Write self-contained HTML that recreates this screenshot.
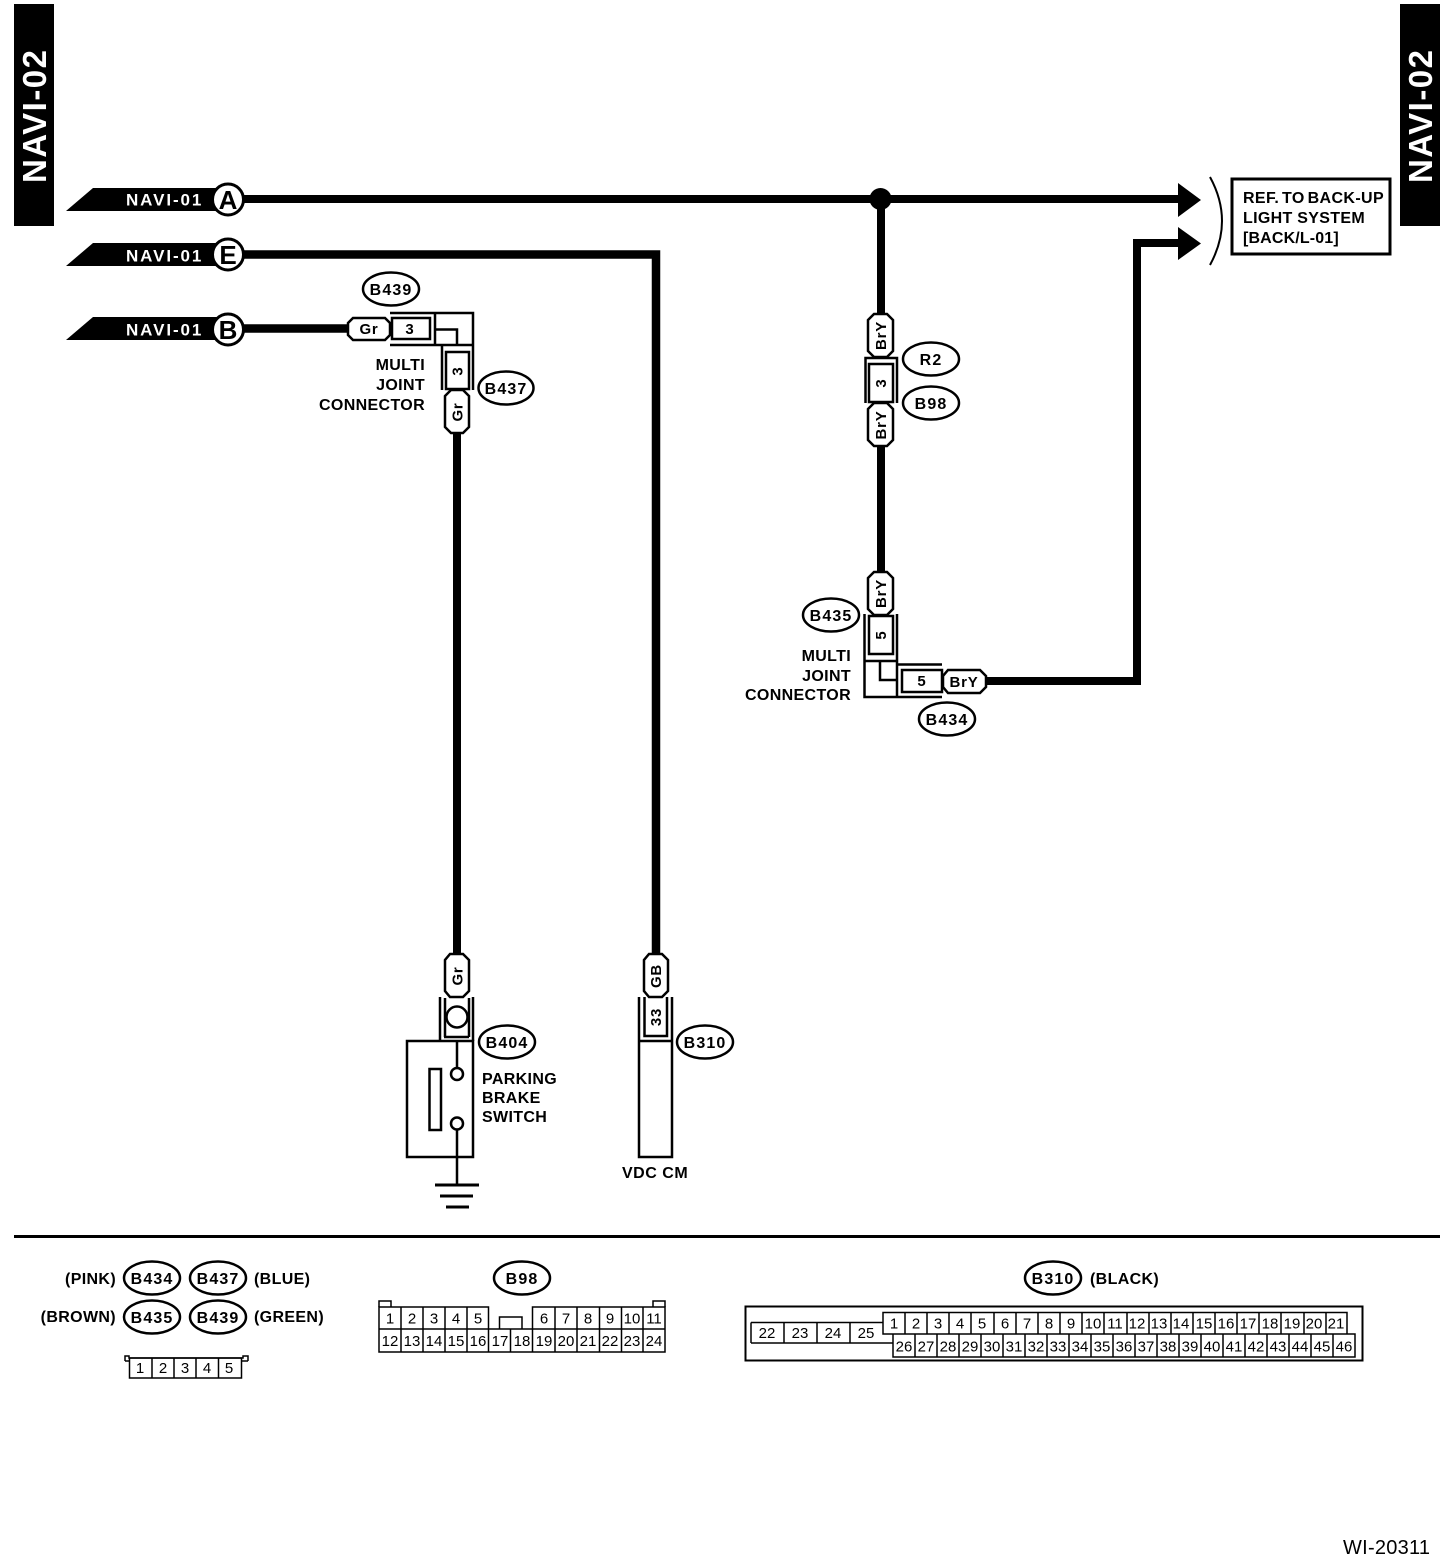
<!DOCTYPE html>
<html><head><meta charset="utf-8"><title>NAVI-02</title>
<style>
html,body{margin:0;padding:0;background:#fff}
svg{display:block}
text{font-family:"Liberation Sans",sans-serif;fill:#000}
.b{font-weight:bold;font-size:16px;letter-spacing:.35px}
.o{font-weight:bold;font-size:16px;text-anchor:middle;letter-spacing:1.1px}
.p{font-weight:bold;font-size:15px;text-anchor:middle;letter-spacing:.8px}
.n{font-size:15px;text-anchor:middle}
.f{font-weight:bold;font-size:17px;fill:#fff;letter-spacing:1.9px}
.l{font-weight:bold;font-size:26px;text-anchor:middle}
.r{text-anchor:end}
.t{font-weight:bold;font-size:33px;fill:#fff}
.s{fill:none;stroke:#000;stroke-width:2.5}
.w{fill:#fff;stroke:#000;stroke-width:2.5}
.c{fill:none;stroke:#000;stroke-width:1.5}
.k{fill:none;stroke:#000;stroke-width:2}
</style></head><body>
<svg width="1456" height="1562" viewBox="0 0 1456 1562" xmlns="http://www.w3.org/2000/svg">
<rect width="1456" height="1562" fill="#fff"/>

<!-- tabs -->
<rect x="14" y="4" width="40" height="222"/>
<rect x="1400" y="4" width="40" height="222"/>
<text class="t" transform="translate(46,183) rotate(-90)" textLength="133">NAVI-02</text>
<text class="t" transform="translate(1432,183) rotate(-90)" textLength="133">NAVI-02</text>

<!-- wires -->
<path d="M243 199H1182" stroke="#000" stroke-width="8" fill="none"/>
<path d="M243 254.500H656V955" stroke="#000" stroke-width="8.500" fill="none"/>
<path d="M243 328.500H347" stroke="#000" stroke-width="8.500" fill="none"/>
<path d="M457 433V955" stroke="#000" stroke-width="8" fill="none"/>
<path d="M881 199V315M881 445V573" stroke="#000" stroke-width="8" fill="none"/>
<path d="M985 681H1137V243H1182" stroke="#000" stroke-width="8" fill="none"/>
<circle cx="880.500" cy="199" r="11"/>
<polygon points="1178,183 1201,200 1178,217"/>
<polygon points="1178,227 1201,243.500 1178,260"/>
<path d="M1210 177Q1234 221 1210 265" class="k"/>

<!-- flags -->
<polygon points="66,211 93,188 220,188 220,211"/>
<polygon points="66,266 93,243 220,243 220,266"/>
<polygon points="66,340 93,317 220,317 220,340"/>
<text class="f" x="126" y="205.500">NAVI-01</text>
<text class="f" x="126" y="261.500">NAVI-01</text>
<text class="f" x="126" y="335.500">NAVI-01</text>
<circle cx="228" cy="199.500" r="15.500" fill="#fff" stroke="#000" stroke-width="3"/>
<circle cx="228" cy="254.500" r="15.500" fill="#fff" stroke="#000" stroke-width="3"/>
<circle cx="228" cy="329.500" r="15.500" fill="#fff" stroke="#000" stroke-width="3"/>
<text class="l" x="228" y="209">A</text>
<text class="l" x="228" y="264">E</text>
<text class="l" x="228" y="339">B</text>

<!-- ref box -->
<rect x="1232" y="179" width="158" height="75" fill="#fff" stroke="#000" stroke-width="3"/>
<text class="b" x="1243" y="203" textLength="141" style="word-spacing:-2px">REF. TO BACK-UP</text>
<text class="b" x="1243" y="223" textLength="122">LIGHT SYSTEM</text>
<text class="b" x="1243" y="243" textLength="96">[BACK/L-01]</text>

<!-- left multi joint -->
<path class="s" d="M390 313H473V390M390 345H473M435 313V345M442 345V390M436 329.500H457V345"/>
<rect class="w" x="392" y="318" width="38" height="21"/>
<polygon class="w" points="353,318 385,318 390,323 390,335 385,340 353,340 348,335 348,323"/>
<text class="p" x="369" y="334">Gr</text>
<text class="p" x="410" y="334">3</text>
<rect class="w" x="446" y="352" width="23" height="37"/>
<text class="p" transform="translate(462.500,371) rotate(-90)">3</text>
<polygon class="w" points="451,390 463,390 469,396 469,427 463,433 451,433 445,427 445,396"/>
<text class="p" transform="translate(462.500,412) rotate(-90)">Gr</text>
<text class="b r" x="425" y="370">MULTI</text>
<text class="b r" x="425" y="390">JOINT</text>
<text class="b r" x="425" y="410">CONNECTOR</text>
<ellipse class="w" cx="391" cy="289" rx="28" ry="16.500"/><text class="o" x="391" y="295">B439</text>
<ellipse class="w" cx="506" cy="388" rx="27.500" ry="16.500"/><text class="o" x="506" y="394">B437</text>

<!-- right column -->
<polygon class="w" points="874,314 887,314 893,320 893,351 887,357 874,357 868,351 868,320"/>
<text class="p" transform="translate(886,335.500) rotate(-90)">BrY</text>
<path class="s" d="M865.500 403V358H897V403"/>
<rect class="w" x="869" y="364" width="24" height="38"/>
<text class="p" transform="translate(886,383) rotate(-90)">3</text>
<polygon class="w" points="874,403 887,403 893,409 893,440 887,446 874,446 868,440 868,409"/>
<text class="p" transform="translate(886,425) rotate(-90)">BrY</text>
<ellipse class="w" cx="931" cy="359" rx="28" ry="16.500"/><text class="o" x="931" y="365">R2</text>
<ellipse class="w" cx="931" cy="403" rx="28" ry="16.500"/><text class="o" x="931" y="409">B98</text>
<polygon class="w" points="874,572 887,572 893,578 893,609 887,615 874,615 868,609 868,578"/>
<text class="p" transform="translate(886,593.500) rotate(-90)">BrY</text>
<path class="s" d="M864.500 614V697H942M897 614V697M864.500 661H897M897 664.500H942M880 661V680H897"/>
<rect class="w" x="869" y="616" width="24" height="38"/>
<text class="p" transform="translate(886,635) rotate(-90)">5</text>
<rect class="w" x="902" y="670" width="40" height="22"/>
<text class="p" x="922" y="686">5</text>
<polygon class="w" points="948,670 980,670 986,676 986,687 980,693 948,693 943,687 943,676"/>
<text class="p" x="964" y="687">BrY</text>
<text class="b r" x="851" y="661">MULTI</text>
<text class="b r" x="851" y="681">JOINT</text>
<text class="b r" x="851" y="700">CONNECTOR</text>
<ellipse class="w" cx="831" cy="615" rx="28" ry="16.500"/><text class="o" x="831" y="621">B435</text>
<ellipse class="w" cx="947" cy="719" rx="28" ry="16.500"/><text class="o" x="947" y="725">B434</text>

<!-- parking brake switch -->
<polygon class="w" points="450,954 463,954 469,960 469,991 463,997 450,997 445,991 445,960"/>
<text class="p" transform="translate(462.500,976) rotate(-90)">Gr</text>
<path class="s" d="M440 997V1041M473 997V1041M444 1037H469"/>
<rect class="s" x="407" y="1041" width="66" height="116"/>
<rect class="s" x="429.500" y="1069" width="11.500" height="61"/>
<circle class="s" cx="457" cy="1017" r="10.500"/>
<path class="s" d="M445 998V1037M469 998V1037"/>
<path class="s" d="M457 1041V1068M457 1129V1185"/>
<circle class="w" cx="457" cy="1074" r="6"/>
<circle class="w" cx="457" cy="1123.500" r="6"/>
<path d="M435 1185H479M440 1196H473M446 1207H469" fill="none" stroke="#000" stroke-width="3"/>
<text class="b" x="482" y="1084">PARKING</text>
<text class="b" x="482" y="1103">BRAKE</text>
<text class="b" x="482" y="1122">SWITCH</text>
<ellipse class="w" cx="507" cy="1042" rx="28" ry="16.500"/><text class="o" x="507" y="1048">B404</text>

<!-- VDC CM -->
<polygon class="w" points="649,954 662,954 668,960 668,991 662,997 649,997 644,991 644,960"/>
<text class="p" transform="translate(661,976) rotate(-90)">GB</text>
<path class="s" d="M639 997V1157H672V997M639 1041H672"/>
<path class="s" d="M644.500 997V1036H667V997"/>
<text class="p" transform="translate(661,1017) rotate(-90)">33</text>
<ellipse class="w" cx="705" cy="1042" rx="28" ry="16.500"/><text class="o" x="705" y="1048">B310</text>
<text class="b" x="622" y="1178" textLength="66">VDC CM</text>

<!-- divider -->
<rect x="14" y="1235" width="1426" height="3"/>

<!-- legend -->
<text class="b r" x="116" y="1284">(PINK)</text>
<text class="b r" x="116" y="1322">(BROWN)</text>
<text class="b" x="254" y="1284">(BLUE)</text>
<text class="b" x="254" y="1322">(GREEN)</text>
<ellipse class="w" cx="152" cy="1278" rx="28" ry="16.500"/><text class="o" x="152" y="1284">B434</text>
<ellipse class="w" cx="218" cy="1278" rx="28" ry="16.500"/><text class="o" x="218" y="1284">B437</text>
<ellipse class="w" cx="152" cy="1317" rx="28" ry="16.500"/><text class="o" x="152" y="1323">B435</text>
<ellipse class="w" cx="218" cy="1317" rx="28" ry="16.500"/><text class="o" x="218" y="1323">B439</text>
<path class="c" d="M125 1361V1356H129V1358H243V1356H248V1361"/>
<rect class="c" x="129.500" y="1358" width="112" height="20"/>
<path class="c" d="M125 1361H129.500M241.500 1361H248M152 1358V1378M174 1358V1378M196 1358V1378M218.500 1358V1378"/>
<text class="n" x="140" y="1373">1</text><text class="n" x="163" y="1373">2</text><text class="n" x="185" y="1373">3</text><text class="n" x="207" y="1373">4</text><text class="n" x="229" y="1373">5</text>

<!-- B98 -->
<ellipse class="w" cx="522" cy="1278" rx="28" ry="16.500"/><text class="o" x="522" y="1284">B98</text>
<path class="c" d="M379 1307V1301H391V1307M653 1307V1301H665V1307"/>
<path class="c" d="M379 1329V1307H488.500V1329M532.500 1329V1307H665V1329M379 1329H665V1352H379V1329"/>
<path class="c" d="M499.500 1329V1317H522V1329"/>
<path class="c" d="M401 1307V1352M423 1307V1352M445 1307V1352M467 1307V1352M488.500 1329V1352M510.500 1329V1352M532.500 1329V1352M555 1307V1352M577 1307V1352M599.500 1307V1352M621.500 1307V1352M643 1307V1352"/>
<text class="n" x="390" y="1323.500">1</text><text class="n" x="412" y="1323.500">2</text><text class="n" x="434" y="1323.500">3</text><text class="n" x="456" y="1323.500">4</text><text class="n" x="478" y="1323.500">5</text>
<text class="n" x="544" y="1323.500">6</text><text class="n" x="566" y="1323.500">7</text><text class="n" x="588" y="1323.500">8</text><text class="n" x="610" y="1323.500">9</text><text class="n" x="632" y="1323.500">10</text><text class="n" x="654" y="1323.500">11</text>
<text class="n" x="390" y="1346">12</text><text class="n" x="412" y="1346">13</text><text class="n" x="434" y="1346">14</text><text class="n" x="456" y="1346">15</text><text class="n" x="478" y="1346">16</text><text class="n" x="500" y="1346">17</text><text class="n" x="522" y="1346">18</text><text class="n" x="544" y="1346">19</text><text class="n" x="566" y="1346">20</text><text class="n" x="588" y="1346">21</text><text class="n" x="610" y="1346">22</text><text class="n" x="632" y="1346">23</text><text class="n" x="654" y="1346">24</text>

<!-- B310 -->
<ellipse class="w" cx="1053" cy="1278" rx="28" ry="16.500"/><text class="o" x="1053" y="1284">B310</text>
<text class="b" x="1090" y="1284">(BLACK)</text>
<rect x="745.500" y="1306.500" width="617" height="54" class="k"/>
<path class="c" d="M751 1322.500H883M751 1343H893M751 1322.500V1343M784 1322.500V1343M817 1322.500V1343M850 1322.500V1343"/>
<path class="c" d="M883 1312.500H1347V1334H883ZM893 1334H1355V1357H893Z"/>
<path class="c" d="M905 1312.500V1334M927 1312.500V1334M949 1312.500V1334M971 1312.500V1334M994 1312.500V1334M1016 1312.500V1334M1038 1312.500V1334M1060 1312.500V1334M1082 1312.500V1334M1104 1312.500V1334M1127 1312.500V1334M1149 1312.500V1334M1171 1312.500V1334M1193 1312.500V1334M1215 1312.500V1334M1237 1312.500V1334M1259 1312.500V1334M1281 1312.500V1334M1304 1312.500V1334M1326 1312.500V1334"/>
<path class="c" d="M915 1334V1357M937 1334V1357M959 1334V1357M981 1334V1357M1003 1334V1357M1025 1334V1357M1047 1334V1357M1069 1334V1357M1091 1334V1357M1113 1334V1357M1135 1334V1357M1157 1334V1357M1179 1334V1357M1201 1334V1357M1223 1334V1357M1245 1334V1357M1267 1334V1357M1289 1334V1357M1311 1334V1357M1333 1334V1357"/>
<text class="n" x="767" y="1338">22</text><text class="n" x="800" y="1338">23</text><text class="n" x="833" y="1338">24</text><text class="n" x="866" y="1338">25</text>
<text class="n" x="894" y="1328.500">1</text><text class="n" x="916" y="1328.500">2</text><text class="n" x="938" y="1328.500">3</text><text class="n" x="960" y="1328.500">4</text><text class="n" x="982" y="1328.500">5</text><text class="n" x="1005" y="1328.500">6</text><text class="n" x="1027" y="1328.500">7</text><text class="n" x="1049" y="1328.500">8</text><text class="n" x="1071" y="1328.500">9</text><text class="n" x="1093" y="1328.500">10</text><text class="n" x="1115" y="1328.500">11</text><text class="n" x="1137" y="1328.500">12</text><text class="n" x="1159" y="1328.500">13</text><text class="n" x="1181" y="1328.500">14</text><text class="n" x="1204" y="1328.500">15</text><text class="n" x="1226" y="1328.500">16</text><text class="n" x="1248" y="1328.500">17</text><text class="n" x="1270" y="1328.500">18</text><text class="n" x="1292" y="1328.500">19</text><text class="n" x="1314" y="1328.500">20</text><text class="n" x="1336" y="1328.500">21</text>
<text class="n" x="904" y="1351.500">26</text><text class="n" x="926" y="1351.500">27</text><text class="n" x="948" y="1351.500">28</text><text class="n" x="970" y="1351.500">29</text><text class="n" x="992" y="1351.500">30</text><text class="n" x="1014" y="1351.500">31</text><text class="n" x="1036" y="1351.500">32</text><text class="n" x="1058" y="1351.500">33</text><text class="n" x="1080" y="1351.500">34</text><text class="n" x="1102" y="1351.500">35</text><text class="n" x="1124" y="1351.500">36</text><text class="n" x="1146" y="1351.500">37</text><text class="n" x="1168" y="1351.500">38</text><text class="n" x="1190" y="1351.500">39</text><text class="n" x="1212" y="1351.500">40</text><text class="n" x="1234" y="1351.500">41</text><text class="n" x="1256" y="1351.500">42</text><text class="n" x="1278" y="1351.500">43</text><text class="n" x="1300" y="1351.500">44</text><text class="n" x="1322" y="1351.500">45</text><text class="n" x="1344" y="1351.500">46</text>

<text x="1343" y="1554" style="font-size:20px" textLength="87">WI-20311</text>
</svg>
</body></html>
